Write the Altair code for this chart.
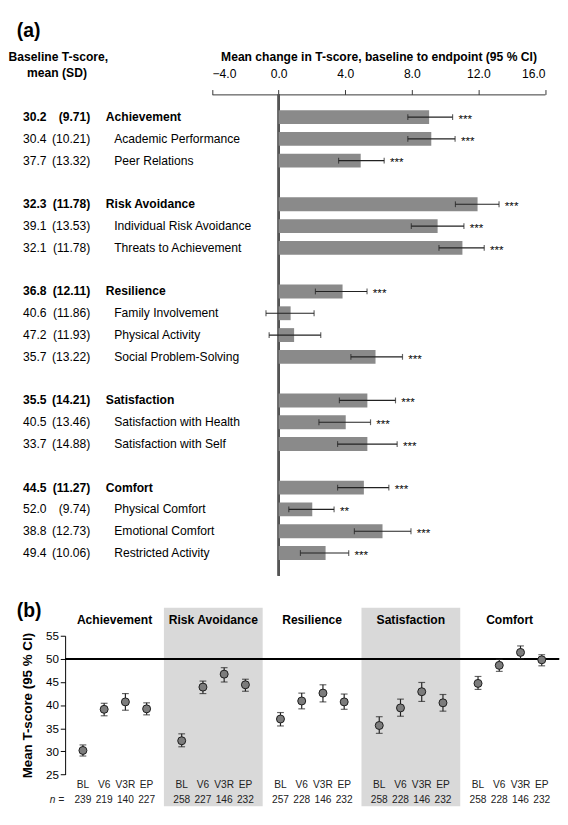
import altair as alt
import pandas as pd

FONT = "Liberation Sans"

# ---------------- Panel (a) data ----------------
labels_a = ["Achievement", "Academic Performance", "Peer Relations",
            "Risk Avoidance", "Individual Risk Avoidance", "Threats to Achievement",
            "Resilience", "Family Involvement", "Physical Activity", "Social Problem-Solving",
            "Satisfaction", "Satisfaction with Health", "Satisfaction with Self",
            "Comfort", "Physical Comfort", "Emotional Comfort", "Restricted Activity"]
is_domain = [True, False, False, True, False, False, True, False, False, False,
             True, False, False, True, False, False, False]
baseline_mean = [30.2, 30.4, 37.7, 32.3, 39.1, 32.1, 36.8, 40.6, 47.2, 35.7,
                 35.5, 40.5, 33.7, 44.5, 52.0, 38.8, 49.4]
baseline_sd = [9.71, 10.21, 13.32, 11.78, 13.53, 11.78, 12.11, 11.86, 11.93, 13.22,
               14.21, 13.46, 14.88, 11.27, 9.74, 12.73, 10.06]
change_mean = [9.04, 9.17, 4.93, 11.95, 9.55, 11.04, 3.84, 0.72, 0.93, 5.82,
               5.33, 4.03, 5.33, 5.12, 2.02, 6.24, 2.82]
change_lo = [7.76, 7.76, 3.60, 10.62, 7.97, 9.63, 2.21, -0.76, -0.57, 4.34,
             3.65, 2.42, 3.54, 3.54, 0.61, 4.55, 1.31]
change_hi = [10.45, 10.60, 6.34, 13.24, 11.13, 12.35, 5.31, 2.13, 2.53, 7.44,
             7.02, 5.52, 7.12, 6.62, 3.33, 7.95, 4.21]
signif = ["***", "***", "***", "***", "***", "***", "***", "", "", "***",
          "***", "***", "***", "***", "**", "***", "***"]
x_ticks_a = [-4, 0, 4, 8, 12, 16]

# ---------------- Panel (b) data ----------------
groups_b = ["Achievement", "Risk Avoidance", "Resilience", "Satisfaction", "Comfort"]
visits = ["BL", "V6", "V3R", "EP"]
t_mean = [[30.2, 39.1, 40.7, 39.2], [32.3, 43.9, 46.7, 44.4], [37.0, 40.9, 42.6, 40.7],
          [35.6, 39.4, 42.9, 40.5], [44.7, 48.6, 51.4, 49.8]]
t_lo = [[29.0, 37.7, 38.9, 37.9], [31.0, 42.5, 45.0, 43.0], [35.5, 39.2, 40.7, 39.1],
        [33.9, 37.6, 40.8, 38.7], [43.4, 47.3, 50.0, 48.5]]
t_hi = [[31.4, 40.4, 42.5, 40.5], [33.8, 45.2, 48.1, 45.6], [38.4, 42.6, 44.4, 42.4],
        [37.5, 41.3, 44.9, 42.3], [46.2, 49.9, 52.8, 50.9]]
n_vals = [[239, 219, 140, 227], [258, 227, 146, 232], [257, 228, 146, 232],
          [258, 228, 146, 232], [258, 228, 146, 232]]
y_ticks_b = [25, 30, 35, 40, 45, 50, 55]

# ---------------- build tables ----------------
rows, r = [], 0
for i in range(len(labels_a)):
    if is_domain[i] and i > 0:
        r += 1
    rows.append(r)
    r += 1

df_a = pd.DataFrame({
    "name": labels_a, "domain": is_domain, "row": rows,
    "mean_txt": [f"{m:.1f}" for m in baseline_mean],
    "sd_txt": [f"({s:.2f})" for s in baseline_sd],
    "change": change_mean, "lo": change_lo, "hi": change_hi, "sig": signif,
})

recs = []
for g, gname in enumerate(groups_b):
    for i, v in enumerate(visits):
        recs.append({"group": gname, "g": g, "visit": v,
                     "pos": g + 0.18 + 0.215 * i,
                     "mean": t_mean[g][i], "lo": t_lo[g][i], "hi": t_hi[g][i],
                     "n": str(n_vals[g][i])})
df_b = pd.DataFrame(recs)
df_groups = pd.DataFrame({"group": groups_b, "g": list(range(5))})
df_groups["g2"] = df_groups["g"] + 1
df_groups["gc"] = df_groups["g"] + 0.5
df_shade = df_groups[df_groups["g"] % 2 == 1]

# ---------------- Panel (a) chart ----------------
WA, HA = 510, 497
xs_a = alt.Scale(domain=[-4, 16], range=[151.7, 495.5], nice=False, zero=False)
ax_a = alt.Axis(orient="top", values=x_ticks_a, format=".1f", tickSize=5, labelPadding=9,
                labelFontSize=12.5, labelColor="#000", domainColor="#333", tickColor="#333",
                grid=False, title="Mean change in T-score, baseline to endpoint (95 % CI)",
                titleFontSize=12.5, titleFontWeight="bold", titleColor="#000", titlePadding=5)
ys_a = alt.Scale(domain=[-1.04, 21.04], reverse=True, nice=False, zero=False)


def X(field):
    return alt.X(field, type="quantitative", scale=xs_a, axis=ax_a)


Y = alt.Y("row:Q", scale=ys_a, axis=None)
base = alt.Chart(df_a)

zero_line = base.mark_rule(color="#555", strokeWidth=1.5).encode(
    x=alt.X("z:Q", scale=xs_a, axis=ax_a), y=alt.value(0), y2=alt.value(HA)
).transform_calculate(z="0")
bars = base.mark_rule(strokeWidth=14.3, color="#8a8a8a", strokeCap="butt").encode(
    x=X("change"), x2=alt.datum(0), y=Y)
err = base.mark_rule(strokeWidth=1.2, color="#222").encode(x=X("lo"), x2="hi:Q", y=Y)
cap_lo = base.mark_tick(orient="vertical", size=6, thickness=1.2, color="#222").encode(x=X("lo"), y=Y)
cap_hi = base.mark_tick(orient="vertical", size=6, thickness=1.2, color="#222").encode(x=X("hi"), y=Y)
stars = base.mark_text(align="left", dx=6, dy=2, fontSize=12, color="#000").encode(
    x=X("hi"), y=Y, text="sig:N")

bold = base.transform_filter("datum.domain")
reg = base.transform_filter("!datum.domain")
txt = dict(fontSize=12.5, color="#000", baseline="middle")
mean_b = bold.mark_text(align="left", fontWeight="bold", **txt).encode(x=alt.value(-43.5), y=Y, text="mean_txt:N")
mean_r = reg.mark_text(align="left", **txt).encode(x=alt.value(-43.5), y=Y, text="mean_txt:N")
sd_b = bold.mark_text(align="right", fontWeight="bold", **txt).encode(x=alt.value(26), y=Y, text="sd_txt:N")
sd_r = reg.mark_text(align="right", **txt).encode(x=alt.value(26), y=Y, text="sd_txt:N")
name_b = bold.mark_text(align="left", fontWeight="bold", **txt).encode(x=alt.value(42), y=Y, text="name:N")
name_r = reg.mark_text(align="left", **txt).encode(x=alt.value(50.7), y=Y, text="name:N")

header1 = alt.Chart(pd.DataFrame({"t": ["Baseline T-score,"]})).mark_text(
    fontWeight="bold", fontSize=12.5, align="center", baseline="middle", color="#000").encode(
    text="t:N", x=alt.value(-7), y=alt.value(-38.3))
header2 = alt.Chart(pd.DataFrame({"t": ["mean (SD)"]})).mark_text(
    fontWeight="bold", fontSize=12.5, align="center", baseline="middle", color="#000").encode(
    text="t:N", x=alt.value(-8.4), y=alt.value(-22.3))
label_a = alt.Chart(pd.DataFrame({"t": ["(a)"]})).mark_text(
    fontWeight="bold", fontSize=20, align="left", baseline="top", color="#000").encode(
    text="t:N", x=alt.value(-50), y=alt.value(-75.3))

chart_a = alt.layer(zero_line, bars, err, cap_lo, cap_hi, stars,
                    mean_b, mean_r, sd_b, sd_r, name_b, name_r,
                    header1, header2, label_a).properties(width=WA, height=HA)

# ---------------- Panel (b) chart ----------------
WB, HB = 510, 143.3
xs_b = alt.Scale(domain=[0, 5], nice=False, zero=False)
ys_b = alt.Scale(domain=[25, 55], nice=False, zero=False)
ax_b = alt.Axis(values=y_ticks_b, tickSize=5, labelPadding=2, labelFontSize=12, labelColor="#000",
                domainColor="#000", tickColor="#000", grid=False, title="Mean T-score (95 % CI)",
                titleFontSize=13.8, titleFontWeight="bold", titleColor="#000", titlePadding=11)
bb = alt.Chart(df_b)

shade = alt.Chart(df_shade).mark_rect(color="#d9d9d9").encode(
    x=alt.X("g:Q", scale=xs_b, axis=None), x2="g2:Q", y=alt.value(-29), y2=alt.value(176))
ref50 = bb.mark_rule(color="#000", strokeWidth=1).encode(
    y=alt.Y("ref:Q", scale=ys_b, axis=ax_b), x=alt.value(0), x2=alt.value(WB)
).transform_calculate(ref="50")
ebar = bb.mark_rule(color="#222", strokeWidth=1.2).encode(
    x=alt.X("pos:Q", scale=xs_b, axis=None), y=alt.Y("lo:Q", scale=ys_b, axis=ax_b), y2="hi:Q")
cb_lo = bb.mark_tick(orient="horizontal", size=7, thickness=1.2, color="#222").encode(
    x=alt.X("pos:Q", scale=xs_b, axis=None), y=alt.Y("lo:Q", scale=ys_b, axis=ax_b))
cb_hi = bb.mark_tick(orient="horizontal", size=7, thickness=1.2, color="#222").encode(
    x=alt.X("pos:Q", scale=xs_b, axis=None), y=alt.Y("hi:Q", scale=ys_b, axis=ax_b))
pts = bb.mark_point(shape="circle", filled=True, size=68, color="#7c7c7c", stroke="#1a1a1a",
                    strokeWidth=1, opacity=1).encode(
    x=alt.X("pos:Q", scale=xs_b, axis=None), y=alt.Y("mean:Q", scale=ys_b, axis=ax_b))
vis_t = bb.mark_text(fontSize=10.5, color="#222", baseline="middle").encode(
    x=alt.X("pos:Q", scale=xs_b, axis=None), y=alt.value(154.7), text="visit:N")
n_t = bb.mark_text(fontSize=10.5, color="#222", baseline="middle").encode(
    x=alt.X("pos:Q", scale=xs_b, axis=None), y=alt.value(170), text="n:N")
n_lab = alt.Chart(pd.DataFrame({"t": ["n ="]})).mark_text(
    fontSize=10.5, fontStyle="italic", color="#222", align="right", baseline="middle").encode(
    text="t:N", x=alt.value(-1), y=alt.value(170))
g_t = alt.Chart(df_groups).mark_text(fontSize=12.5, fontWeight="bold", color="#000", baseline="middle").encode(
    x=alt.X("gc:Q", scale=xs_b, axis=None), y=alt.value(-16), text="group:N")
label_b = alt.Chart(pd.DataFrame({"t": ["(b)"]})).mark_text(
    fontWeight="bold", fontSize=20, align="left", baseline="top", color="#000").encode(
    text="t:N", x=alt.value(-50), y=alt.value(-35))

chart_b = alt.layer(shade, ref50, ebar, cb_lo, cb_hi, pts, vis_t, n_t, n_lab, g_t, label_b).properties(
    width=WB, height=HB)

chart = alt.vconcat(chart_a, chart_b, spacing=26).properties(padding=0).configure(
    font=FONT).configure_view(stroke=None)

chart.save("out.html", embed_options={"renderer": "svg", "actions": False})
